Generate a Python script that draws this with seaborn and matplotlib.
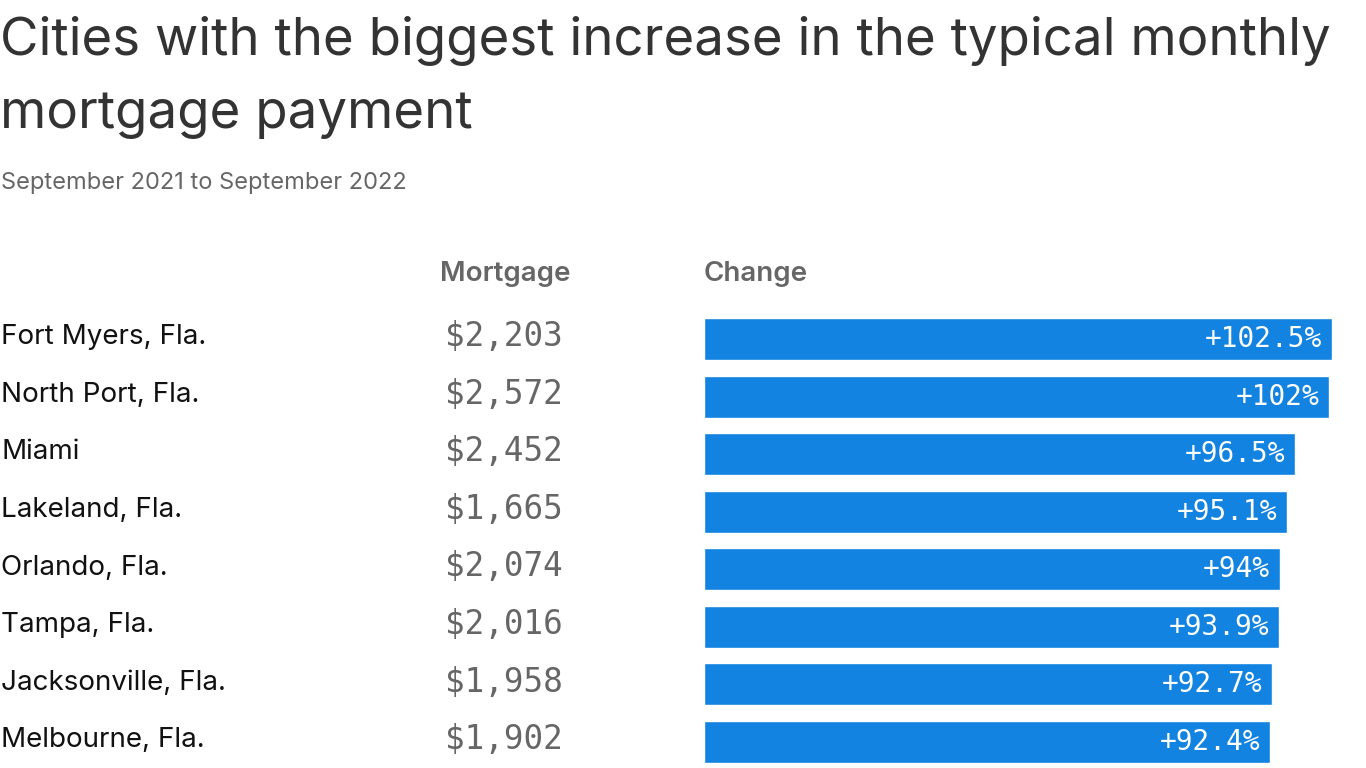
import matplotlib
matplotlib.use("Agg")
import matplotlib.pyplot as plt
import matplotlib.transforms as mtransforms
import seaborn as sns

cities = ["Fort Myers, Fla.", "North Port, Fla.", "Miami", "Lakeland, Fla.", "Orlando, Fla.",
          "Tampa, Fla.", "Jacksonville, Fla.", "Melbourne, Fla."]
mortgage = [2203, 2572, 2452, 1665, 2074, 2016, 1958, 1902]
change = [102.5, 102, 96.5, 95.1, 94, 93.9, 92.7, 92.4]

W, H = 1366, 768
sns.set_theme(style="white")
plt.rcParams["font.family"] = ["Inter", "DejaVu Sans"]

fig = plt.figure(figsize=(W / 100, H / 100), dpi=100)

# bar area placed in pixel terms: x 704..1332, row centres 339..742
row_gap = (742 - 339) / 7
top_px = 339 - row_gap / 2
bot_px = 742 + row_gap / 2
ax = fig.add_axes([704 / W, (H - bot_px) / H, (1332 - 704) / W, (bot_px - top_px) / H])

sns.barplot(x=change, y=cities, color="#1283E0", saturation=1, width=0.73, ax=ax)
ax.set_xlim(0, max(change))
ax.set_ylim(len(cities) - 0.5, -0.5)
ax.axis("off")

labels = [f"+{v:g}%" for v in change]
ax.bar_label(ax.containers[0], labels=labels, padding=-7, color="white",
             fontsize=20, family="DejaVu Sans Mono")
for t in ax.texts:
    t.set_horizontalalignment("right")

trans = mtransforms.blended_transform_factory(fig.transFigure, ax.transData)
for i, (c, m) in enumerate(zip(cities, mortgage)):
    ax.text(1 / W, i - 0.03, c, transform=trans, ha="left", va="center", fontsize=20, color="#111111")
    ax.text(445 / W, i - 0.04, f"${m:,}", transform=trans, ha="left", va="center", fontsize=23.5,
            color="#666666", family="DejaVu Sans Mono")

fig.text(440 / W, 1 - 274 / H, "Mortgage", fontsize=20, color="#666666", weight="semibold",
         ha="left", va="center")
fig.text(704 / W, 1 - 274 / H, "Change", fontsize=20, color="#666666", weight="semibold",
         ha="left", va="center")

fig.text(0, 1 - 55 / H, "Cities with the biggest increase in the typical monthly",
         fontsize=38, color="#333333", ha="left", va="baseline")
fig.text(0, 1 - 128 / H, "mortgage payment", fontsize=38, color="#333333", ha="left", va="baseline")
fig.text(1 / W, 1 - 189 / H, "September 2021 to September 2022", fontsize=17, color="#666666",
         ha="left", va="baseline")

fig.savefig("out.png", dpi=100)
